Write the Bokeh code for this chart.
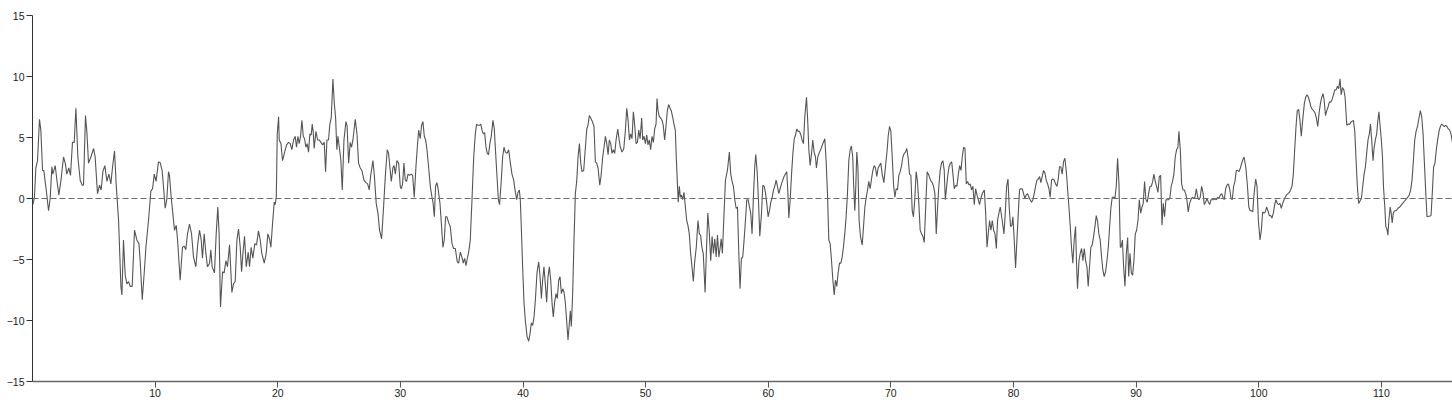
from bokeh.plotting import figure
from bokeh.models import Range1d, FixedTicker, Span
from bokeh.embed import file_html
from bokeh.resources import INLINE

# ---- data, segment by segment ----
x_seg1 = [0.00,0.08,0.16,0.27,0.41,0.57,0.68,0.82,0.92,1.12,
          1.31,1.44,1.58,1.66,1.85,1.99,2.15,2.31,2.53,2.67,
          2.80,2.96,3.10,3.26,3.40,3.54,3.70,3.89,4.05,4.16,
          4.32,4.43,4.57,4.76,4.98,5.11,5.30,5.47,5.60,5.74,
          5.90,6.07,6.23,6.39,6.53,6.69,6.82,7.02,7.21,7.29,
          7.42,7.56,7.70,7.83,7.97,8.13,8.32,8.51,8.68,8.78,
          8.95,9.11,9.25,9.46,9.65,9.79,9.93]
y_seg1 = [-0.55,-0.3,0.1,2.5,3.1,6.5,5.6,2.3,2.3,0.7,
          -1.0,0.0,2.6,2.0,2.7,1.5,0.3,1.4,3.4,2.9,
          2.0,2.5,1.9,4.6,4.6,7.4,3.4,1.5,1.1,1.1,
          6.8,5.5,2.9,3.4,4.1,3.4,0.4,1.1,0.7,2.2,
          2.7,1.4,2.0,1.2,2.6,3.9,1.2,-1.8,-7.2,-7.9,
          -3.4,-6.3,-7.0,-6.8,-7.2,-7.2,-2.6,-3.4,-3.7,-5.1,
          -8.3,-6.1,-4.0,-1.8,0.6,0.8,2.0]

x_seg2 = [10.08,10.27,10.41,10.57,10.68,10.82,10.95,11.09,11.17,11.31,
          11.44,11.58,11.72,11.83,12.04,12.23,12.37,12.50,12.64,12.80,
          12.97,13.13,13.32,13.48,13.62,13.76,13.86,14.00,14.14,14.27,
          14.44,14.54,14.65,14.84,14.98,15.11,15.22,15.33,15.50,15.63,
          15.77,15.90,16.07,16.26,16.39,16.53,16.67,16.80,16.94,17.05,
          17.16,17.29,17.43,17.59,17.70,17.83,17.97,18.13,18.27,18.43,
          18.57,18.70,18.90,19.06,19.19,19.33,19.44,19.58,19.71,19.79,
          19.88,19.96,20.07]
y_seg2 = [1.4,3.0,2.95,2.3,1.0,-0.8,-0.1,2.2,1.9,0.1,
          -1.2,-2.6,-2.2,-3.4,-6.7,-4.0,-3.9,-4.2,-2.9,-2.1,
          -2.9,-4.8,-5.6,-3.7,-2.6,-3.4,-4.9,-2.9,-4.5,-5.6,
          -5.3,-4.2,-5.6,-6.1,-2.9,-0.7,-2.9,-8.9,-6.0,-6.1,
          -5.1,-5.6,-3.8,-7.7,-7.0,-6.8,-3.4,-2.5,-4.0,-6.0,
          -4.5,-3.1,-5.6,-4.4,-5.6,-4.0,-4.9,-3.7,-3.8,-2.65,
          -3.4,-4.5,-5.3,-4.5,-2.9,-3.3,-4.0,-2.0,-0.3,-0.5,
          0.1,5.3,6.7]

x_seg3 = [20.12,20.26,20.39,20.56,20.72,20.88,21.02,21.15,21.29,21.42,
          21.53,21.64,21.75,21.86,21.97,22.08,22.19,22.29,22.40,22.51,
          22.62,22.73,22.81,22.89,22.97,23.11,23.25,23.38,23.52,23.65,
          23.79,23.90,24.01,24.14,24.25,24.36,24.50,24.61,24.72,24.82,
          24.91,25.02,25.15,25.26,25.40,25.56,25.65,25.78,25.91,26.02,
          26.13,26.32,26.46,26.59,26.73,26.86,27.03,27.19,27.33,27.46,
          27.57,27.76,27.87,28.03,28.17,28.30,28.47,28.63,28.77,28.93,
          29.04,29.15,29.26,29.39,29.48,29.59,29.72,29.86,29.99]
y_seg3 = [4.8,4.5,3.1,3.8,4.4,4.6,4.5,4.0,4.8,5.1,
          4.2,5.1,4.5,5.1,6.4,5.1,4.9,4.2,4.5,3.8,
          5.3,5.2,6.1,5.5,4.1,5.5,4.8,4.8,4.6,4.4,
          4.6,2.2,4.8,4.8,6.1,6.6,9.8,7.8,6.6,4.0,
          5.1,4.2,3.1,0.7,4.8,6.3,6.0,2.9,4.6,4.2,
          4.8,6.5,5.3,2.9,2.5,2.3,1.5,1.3,1.2,0.7,
          1.8,3.1,2.0,-0.4,-1.2,-2.6,-3.3,-0.7,1.8,4.0,
          3.7,2.5,1.4,2.5,2.7,2.0,3.1,2.9,1.0]

x_seg4 = [30.07,30.18,30.29,30.40,30.51,30.62,30.75,30.89,31.00,31.13,
          31.27,31.38,31.49,31.62,31.73,31.84,31.95,32.06,32.17,32.30,
          32.44,32.58,32.66,32.77,32.87,32.98,33.09,33.23,33.34,33.47,
          33.58,33.69,33.80,33.94,34.07,34.21,34.34,34.48,34.64,34.75,
          34.89,35.02,35.13,35.24,35.35,35.46,35.57,35.70,35.84,35.98,
          36.11,36.22,36.33,36.44,36.55,36.66,36.76,36.87,36.98,37.09,
          37.19,37.30,37.41,37.55,37.66,37.77,37.88,37.99,38.09,38.23,
          38.34,38.45,38.56,38.70,38.83,38.97,39.10,39.24,39.38,39.49,
          39.59,39.70]
y_seg4 = [0.8,1.2,2.9,1.5,1.4,2.0,1.9,2.0,1.9,0.1,
          2.6,4.2,5.6,4.9,6.0,6.3,5.1,4.8,4.0,2.6,
          1.0,0.1,-0.3,-1.5,1.0,1.3,0.7,-0.4,-2.0,-4.0,
          -3.4,-1.5,-1.5,-2.0,-2.3,-3.7,-4.1,-4.1,-5.2,-5.3,
          -4.4,-4.8,-5.3,-4.9,-5.5,-4.9,-4.4,-3.4,-0.1,3.4,
          5.3,6.1,6.0,6.0,6.1,5.6,5.3,5.4,4.2,3.7,
          3.6,4.5,5.1,6.4,5.7,3.7,1.8,-0.1,-0.5,1.5,
          3.4,4.2,3.8,3.7,4.0,2.9,2.0,1.5,0.5,-0.1,
          0.5,0.7]

x_seg5 = [39.78,39.86,39.97,40.08,40.19,40.33,40.46,40.57,40.68,40.79,
          40.90,41.01,41.14,41.28,41.39,41.50,41.60,41.71,41.82,41.93,
          42.04,42.15,42.26,42.37,42.47,42.58,42.69,42.80,42.91,43.02,
          43.13,43.24,43.35,43.45,43.56,43.67,43.78,43.86,43.94,44.05,
          44.16,44.27,44.38,44.49,44.60,44.71,44.81,44.95,45.09,45.20,
          45.30,45.41,45.52,45.66,45.79,45.90,46.01,46.12,46.26,46.36,
          46.50,46.61,46.72,46.83,46.94,47.04,47.15,47.26,47.37,47.48,
          47.59,47.73,47.84,47.94,48.08,48.22,48.35,48.46,48.57,48.68,
          48.78,48.89,49.00,49.11,49.22,49.33,49.44,49.55]
y_seg5 = [-0.1,-2.3,-5.6,-8.5,-10.0,-11.3,-11.7,-11.1,-10.2,-10.4,
          -9.7,-8.3,-6.1,-5.2,-6.4,-8.2,-6.7,-5.6,-7.0,-8.5,
          -6.4,-5.6,-6.7,-8.6,-9.7,-8.5,-7.8,-8.2,-6.7,-6.4,
          -7.8,-7.4,-7.7,-8.5,-10.0,-11.6,-10.2,-9.2,-10.5,-7.8,
          -3.4,0.4,1.4,3.4,4.5,2.9,2.2,2.3,4.2,5.7,
          6.0,6.8,6.6,6.3,5.9,3.0,2.9,2.5,1.1,1.8,
          3.4,4.2,5.1,4.5,3.6,4.8,4.5,3.7,4.0,3.7,
          4.8,5.7,4.8,4.2,3.8,4.1,5.6,7.4,6.4,4.8,
          5.3,4.9,7.1,6.0,4.5,4.6,5.6,4.9]

x_seg6 = [49.68,49.76,49.87,49.98,50.09,50.19,50.30,50.41,50.52,50.63,
          50.74,50.85,50.93,51.01,51.12,51.23,51.34,51.44,51.55,51.66,
          51.77,51.88,51.99,52.09,52.20,52.31,52.42,52.50,52.58,52.66,
          52.75,52.83,52.91,53.02,53.13,53.24,53.35,53.45,53.56,53.67,
          53.78,53.89,53.99,54.13,54.27,54.38,54.48,54.59,54.70,54.85,
          54.95,55.07,55.18,55.31,55.42,55.53,55.64,55.75,55.86,55.97,
          56.07,56.16,56.26,56.37,56.51,56.67,56.83,56.94,57.05,57.16,
          57.27,57.38,57.49,57.60,57.70,57.81,57.92,58.03,58.14,58.25,
          58.36,58.47,58.57,58.68,58.79,58.90,58.98,59.09,59.20,59.31]
y_seg6 = [6.6,4.8,5.1,4.5,5.2,4.4,4.8,4.0,5.1,4.6,
          5.7,6.1,8.2,7.2,6.7,6.6,6.4,6.0,4.8,5.9,
          7.2,7.7,7.4,7.2,6.7,6.1,5.6,3.4,1.5,-0.3,
          1.0,0.1,0.3,-0.1,0.5,-0.7,-1.8,-2.2,-2.9,-4.5,
          -5.6,-6.8,-5.3,-4.0,-1.8,-2.9,-3.0,-4.0,-4.5,-7.7,
          -4.5,-1.2,-2.6,-5.1,-3.1,-4.5,-3.3,-4.8,-3.0,-4.8,
          -4.1,-3.3,-4.5,-1.8,1.5,2.3,3.8,2.0,1.4,1.0,
          -0.1,-0.8,-0.7,-4.5,-7.4,-4.9,-4.8,-3.4,-1.8,-0.1,
          -0.1,-0.7,-1.2,-2.9,0.1,2.6,3.6,2.3,-0.1,-3.1]

x_seg7 = [59.45,59.56,59.67,59.77,59.88,59.99,60.10,60.21,60.32,60.43,
          60.53,60.64,60.75,60.86,60.97,61.08,61.18,61.29,61.40,61.51,
          61.59,61.68,61.79,61.90,62.01,62.12,62.22,62.33,62.44,62.55,
          62.66,62.76,62.87,62.98,63.12,63.23,63.31,63.42,63.53,63.63,
          63.74,63.85,63.93,64.04,64.18,64.31,64.45,64.61,64.72,64.83,
          64.94,65.05,65.16,65.27,65.38,65.48,65.59,65.70,65.81,65.92,
          66.03,66.13,66.24,66.35,66.46,66.57,66.68,66.78,66.89,66.97,
          67.06,67.14,67.22,67.31,67.41,67.52,67.66,67.77,67.88,67.99,
          68.10,68.20,68.31,68.42,68.53,68.64,68.75,68.85,68.96,69.07]
y_seg7 = [-1.2,1.1,1.0,0.5,-0.4,-1.5,-1.0,-0.3,0.1,0.7,
          1.0,1.5,1.0,0.4,0.8,1.2,1.5,1.8,2.0,2.2,
          0.7,-1.6,-0.1,2.0,3.7,4.9,5.2,5.7,5.5,5.5,
          5.2,4.8,4.5,6.7,8.3,6.1,4.0,2.7,3.7,4.8,
          3.8,3.4,2.5,3.4,3.8,4.1,4.5,4.9,3.1,0.4,
          -3.4,-3.7,-5.1,-6.7,-7.9,-6.7,-7.2,-6.1,-5.3,-5.3,
          -4.8,-4.0,-2.9,-1.5,0.4,3.1,4.0,4.3,3.4,1.0,
          -1.0,1.0,3.8,2.6,-1.8,-3.1,-3.8,-2.3,-0.7,0.1,
          0.7,1.4,0.8,1.6,2.3,2.7,2.5,1.8,2.5,2.7]

x_seg8 = [69.18,69.29,69.43,69.56,69.70,69.78,69.89,70.00,70.11,70.22,
          70.33,70.43,70.54,70.65,70.76,70.87,70.98,71.09,71.19,71.30,
          71.41,71.52,71.63,71.74,71.84,71.95,72.06,72.17,72.28,72.39,
          72.50,72.61,72.72,72.82,72.96,73.10,73.23,73.37,73.48,73.59,
          73.70,73.81,73.91,74.02,74.13,74.24,74.35,74.44,74.52,74.63,
          74.74,74.85,74.96,75.06,75.17,75.28,75.39,75.50,75.61,75.72,
          75.82,75.93,76.04,76.15,76.26,76.37,76.47,76.58,76.69,76.80,
          76.91,77.02,77.13,77.23,77.34,77.45,77.62,77.73,77.84,77.94,
          78.05,78.16,78.27,78.38,78.49,78.60,78.70,78.81,78.92]
y_seg8 = [2.9,2.0,1.3,2.6,4.0,5.1,5.9,5.5,3.4,1.1,
          0.1,0.8,0.7,1.9,2.2,2.7,3.4,3.7,3.8,4.1,
          3.3,2.0,1.9,-1.0,-1.5,-0.1,2.2,1.4,-0.4,-2.6,
          -2.9,-3.1,-3.6,-1.2,2.2,1.9,1.5,1.3,1.0,0.4,
          -2.9,-0.7,1.0,2.3,2.9,3.1,2.3,-0.1,0.7,1.8,
          2.6,2.9,3.0,2.0,0.8,1.1,1.0,2.0,2.7,2.3,
          3.4,4.2,4.1,1.2,1.4,1.1,1.2,0.7,1.0,-0.5,
          0.8,0.3,-0.1,-0.5,0.0,0.4,0.7,-1.2,-4.0,-2.9,
          -1.8,-2.6,-1.8,-2.6,-2.9,-4.1,-1.8,-1.2,-0.7]

x_seg9 = [79.08,79.22,79.33,79.44,79.55,79.65,79.76,79.87,79.95,80.06,
          80.17,80.28,80.39,80.49,80.60,80.71,80.82,80.93,81.04,81.15,
          81.26,81.36,81.47,81.58,81.69,81.80,81.91,82.02,82.13,82.23,
          82.34,82.45,82.56,82.67,82.78,82.89,82.99,83.10,83.21,83.32,
          83.43,83.54,83.65,83.75,83.86,83.97,84.08,84.19,84.30,84.41,
          84.52,84.63,84.73,84.84,84.95,85.06,85.14,85.22,85.34,85.44,
          85.55,85.66,85.77,85.88,85.99,86.09,86.20,86.31,86.42,86.53,
          86.64,86.75,86.86,86.96,87.07,87.18,87.29,87.40,87.51,87.62,
          87.73,87.84,87.94,88.05,88.16,88.27,88.38,88.49,88.60,88.71]
y_seg9 = [-1.8,-2.9,-1.2,1.0,1.6,-0.7,-2.3,-2.2,-1.5,-3.4,
          -5.7,-3.4,-1.2,0.7,0.8,0.8,0.4,0.0,0.3,0.4,
          0.1,-0.1,-0.3,-0.1,0.4,1.0,1.5,1.6,1.8,1.3,
          1.8,2.3,2.1,1.5,1.2,0.8,0.1,1.5,1.6,1.5,
          1.2,1.0,1.6,2.6,2.6,2.0,3.0,3.3,2.3,0.8,
          -0.7,-2.3,-4.0,-5.3,-3.4,-2.3,-5.3,-7.4,-5.1,-4.5,
          -4.1,-5.1,-4.1,-5.1,-5.6,-7.2,-5.6,-4.0,-3.8,-3.1,
          -2.3,-1.4,-1.9,-2.9,-3.4,-4.8,-5.9,-6.4,-6.0,-5.1,
          -4.0,-2.3,-0.8,0.1,0.1,0.0,1.0,3.3,1.2,-4.0]

x_seg10 = [88.77,88.88,88.98,89.09,89.20,89.31,89.39,89.50,89.61,89.71,
           89.82,89.93,90.04,90.15,90.26,90.37,90.48,90.58,90.69,90.80,
           90.91,91.02,91.13,91.24,91.35,91.45,91.56,91.67,91.78,91.89,
           92.00,92.11,92.21,92.32,92.43,92.54,92.65,92.76,92.86,92.97,
           93.08,93.19,93.30,93.41,93.49,93.60,93.71,93.82,93.93,94.04,
           94.14,94.25,94.36,94.47,94.58,94.69,94.80,94.91,95.02,95.12,
           95.23,95.34,95.45,95.56,95.67,95.78,95.89,96.00,96.10,96.21,
           96.32,96.43,96.54,96.65,96.76,96.87,96.98,97.08,97.19,97.30,
           97.41,97.52,97.63,97.74,97.84,97.95,98.06,98.17,98.28,98.39,
           98.50]
y_seg10 = [-4.0,-3.4,-5.6,-7.2,-4.5,-3.2,-6.4,-4.5,-6.1,-6.3,
           -5.1,-2.9,-2.6,-1.8,-0.1,-1.2,-0.7,-0.4,1.4,-0.1,
           -0.3,0.4,1.0,1.0,1.4,2.0,1.4,1.0,0.5,1.8,
           1.9,-2.2,-0.4,-1.5,-0.1,-0.1,-0.1,0.1,1.0,1.4,
           2.0,3.4,4.0,4.2,5.5,4.0,1.2,0.7,0.7,0.4,
           -0.1,-1.1,-0.4,-0.1,0.1,0.0,0.1,0.8,0.1,-0.1,
           0.1,1.0,0.5,-0.5,-0.3,0.0,-0.3,-0.5,-0.1,-0.1,
           -0.1,0.0,-0.1,0.1,0.0,0.3,0.4,0.1,-0.1,0.8,
           1.1,1.2,0.8,0.0,-0.1,1.0,1.4,2.3,2.3,2.2,
           2.5]

x_seg11 = [98.67,98.80,98.94,99.08,99.19,99.30,99.40,99.51,99.62,99.75,
           99.86,99.97,100.10,100.21,100.32,100.43,100.54,100.64,100.75,100.86,
           100.97,101.08,101.19,101.30,101.40,101.51,101.62,101.73,101.84,101.95,
           102.06,102.16,102.27,102.38,102.49,102.60,102.71,102.82,102.93,103.04,
           103.14,103.25,103.36,103.47,103.58,103.72,103.83,103.94,104.05,104.16,
           104.26,104.37,104.48,104.59,104.70,104.81,104.92,105.03,105.14,105.24,
           105.33,105.44,105.55,105.65,105.76,105.87,105.98,106.09,106.20,106.31,
           106.42,106.52,106.63,106.72,106.83,106.94,107.04]
y_seg11 = [3.1,3.4,2.6,1.0,-0.7,-1.0,-1.0,-1.1,0.4,1.6,
           1.0,-1.8,-3.4,-2.6,-1.1,-1.2,-1.1,-0.7,-1.0,-1.4,
           -1.4,-1.6,-1.2,-0.5,-0.1,-0.4,-0.5,-0.4,-0.8,-0.4,
           -0.1,0.1,0.3,0.4,0.5,0.7,1.0,2.0,4.0,5.9,
           7.2,7.3,6.4,5.1,6.4,7.8,8.3,8.5,8.3,7.9,
           7.5,7.3,7.2,7.0,6.6,5.9,7.0,7.8,8.3,8.6,
           8.1,6.8,7.2,7.5,7.9,7.9,8.1,8.5,8.9,8.9,
           9.2,9.0,9.8,8.5,9.1,8.9,8.3]

x_seg12 = [107.18,107.28,107.42,107.55,107.72,107.83,107.94,108.04,108.15,108.26,
           108.37,108.48,108.59,108.70,108.80,108.91,109.02,109.11,109.21,109.32,
           109.40,109.51,109.62,109.70,109.80,109.90,110.00,110.09,110.17,110.28,
           110.36,110.45,110.53,110.61,110.72,110.80,110.88,110.97,111.08,111.21,
           111.35,111.49,111.65,111.82,111.98,112.15,112.28,112.39,112.50,112.61,
           112.72,112.83,112.96,113.07,113.18,113.29,113.40,113.50,113.61,113.72,
           113.83,113.94,114.05,114.15,114.26,114.37,114.48,114.59,114.70,114.81,
           114.92,115.03,115.13,115.24,115.35,115.46,115.57,115.68,115.79]
y_seg12 = [6.0,6.1,6.1,6.3,6.4,5.5,3.1,1.0,-0.4,-0.2,
           0.0,1.0,2.0,2.6,3.7,4.8,5.3,6.1,4.8,3.1,
           4.1,4.8,5.3,6.3,7.1,5.9,4.8,3.4,1.0,-0.7,
           -2.3,-2.5,-3.0,-1.8,-0.7,-1.2,-2.0,-1.2,-1.0,-1.0,
           -0.8,-0.7,-0.5,-0.3,-0.1,0.1,0.3,0.7,1.5,3.1,
           4.8,5.5,6.0,6.6,7.2,6.7,5.3,3.1,0.7,-1.5,
           -1.45,-1.45,-1.4,0.4,2.6,2.9,4.0,4.8,5.5,5.9,
           6.1,6.0,5.9,6.0,5.9,5.7,5.6,5.3,4.6]

x_ticks = [10, 20, 30, 40, 50, 60, 70, 80, 90, 100, 110]
y_ticks = [-15, -10, -5, 0, 5, 10, 15]
baseline_value = 0
x_start, x_end = 0, 115.8
y_start, y_end = -15, 15

x_segments = [x_seg1, x_seg2, x_seg3, x_seg4, x_seg5, x_seg6,
              x_seg7, x_seg8, x_seg9, x_seg10, x_seg11, x_seg12]
y_segments = [y_seg1, y_seg2, y_seg3, y_seg4, y_seg5, y_seg6,
              y_seg7, y_seg8, y_seg9, y_seg10, y_seg11, y_seg12]

xs, ys = [], []
for xa, ya in zip(x_segments, y_segments):
    n = min(len(xa), len(ya))
    xs.extend(xa[:n])
    ys.extend(ya[:n])

p = figure(width=1452, height=402,
           x_range=Range1d(x_start, x_end), y_range=Range1d(y_start, y_end),
           output_backend="svg", toolbar_location=None,
           min_border_left=32, min_border_right=0,
           min_border_top=15, min_border_bottom=21)
p.grid.visible = False
p.outline_line_color = None
p.background_fill_color = "white"
p.border_fill_color = "white"

zero = Span(location=baseline_value, dimension="width",
            line_color="#6e6e6e", line_width=1, line_dash="6 3")
p.add_layout(zero)

p.line(xs, ys, line_color="#555555", line_width=1.1)

p.xaxis.ticker = FixedTicker(ticks=x_ticks)
p.yaxis.ticker = FixedTicker(ticks=y_ticks)
for ax in (p.xaxis, p.yaxis):
    ax.major_tick_in = 0
    ax.major_tick_out = 6
    ax.minor_tick_line_color = None
    ax.major_label_text_font = "Liberation Sans"
    ax.major_label_text_font_size = "10.5px"
    ax.major_label_text_color = "#222222"
p.yaxis.axis_line_color = "#333333"
p.yaxis.major_tick_line_color = "#333333"
p.yaxis.major_label_standoff = 2
p.xaxis.axis_line_color = "#666666"
p.xaxis.axis_line_width = 1.6
p.xaxis.major_tick_line_color = "#555555"
p.xaxis.major_label_standoff = 1

open("out.html", "w").write(file_html(p, INLINE))
